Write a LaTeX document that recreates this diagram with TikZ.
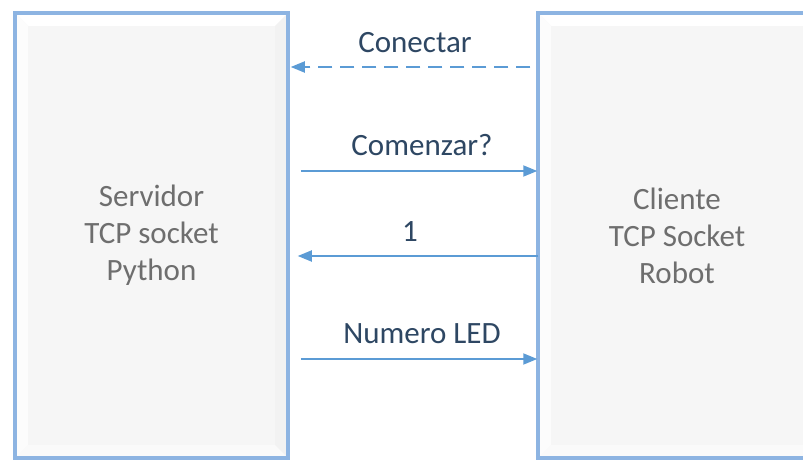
\documentclass[tikz,border=0pt]{standalone}
\usepackage{fontspec}
\setmainfont{Carlito}
\usetikzlibrary{arrows.meta}
\definecolor{frameblue}{HTML}{8DB4E2}
\definecolor{arrowblue}{HTML}{5B9BD5}
\definecolor{boxtext}{HTML}{6E6E6E}
\definecolor{msgtext}{HTML}{2E4763}
\definecolor{boxfill}{HTML}{F6F6F6}
\tikzset{
  bevelbox/.style={draw=frameblue, line width=3.5pt, fill=boxfill,
    inner sep=0pt, align=center, text=boxtext,
    font=\fontsize{31}{37}\selectfont,
    path picture={
      \fill[white] (path picture bounding box.north west) -- (path picture bounding box.north east)
        -- ([shift={(-13pt,-13pt)}]path picture bounding box.north east)
        -- ([shift={(13pt,-13pt)}]path picture bounding box.north west) -- cycle;
      \fill[white!70!boxfill] (path picture bounding box.north west) -- (path picture bounding box.south west)
        -- ([shift={(13pt,13pt)}]path picture bounding box.south west)
        -- ([shift={(13pt,-13pt)}]path picture bounding box.north west) -- cycle;
      \fill[black!5] (path picture bounding box.north east) -- (path picture bounding box.south east)
        -- ([shift={(-13pt,13pt)}]path picture bounding box.south east)
        -- ([shift={(-13pt,-13pt)}]path picture bounding box.north east) -- cycle;
      \fill[white!50!boxfill] (path picture bounding box.south west) -- (path picture bounding box.south east)
        -- ([shift={(-13pt,13pt)}]path picture bounding box.south east)
        -- ([shift={(13pt,13pt)}]path picture bounding box.south west) -- cycle;
    }},
  msg/.style={draw=arrowblue, line width=1.8pt,
    -{Triangle[length=14pt,width=11pt]}},
  msglabel/.style={text=msgtext, font=\fontsize{31}{37}\selectfont, inner sep=0pt}
}
\begin{document}
\begin{tikzpicture}[x=1pt, y=-1pt]
  \clip (0,0) rectangle (803,460);
  \useasboundingbox (0,0) rectangle (803,460);
  \fill[white] (0,0) rectangle (803,460);

  % server and client blocks
  \node[bevelbox, minimum width=273pt, minimum height=445pt] (srv) at (151.5,235.5)
    {Servidor\\TCP socket\\Python};
  \node[bevelbox, minimum width=278pt, minimum height=445pt] (cli) at (677,235.5)
    {Cliente\\TCP Socket\\Robot};

  % messages exchanged between the two sockets
  \draw[msg, dashed, dash pattern=on 14pt off 8pt] ([xshift=-6pt]cli.west |- 0,67) -- ([xshift=1pt]srv.east |- 0,67);
  \node[msglabel] (l1) at (415,43) {Conectar};

  \draw[msg] ([xshift=11pt]srv.east |- 0,171) -- ([xshift=1pt]cli.west |- 0,171);
  \node[msglabel] (l2) at (422,145) {Comenzar?};

  \draw[msg] ([xshift=2pt]cli.west |- 0,256) -- ([xshift=8pt]srv.east |- 0,256);
  \node[msglabel] (l3) at (410,232) {1};

  \draw[msg] ([xshift=11pt]srv.east |- 0,359) -- ([xshift=1pt]cli.west |- 0,359);
  \node[msglabel] (l4) at (422,334) {Numero LED};
\end{tikzpicture}
\end{document}
